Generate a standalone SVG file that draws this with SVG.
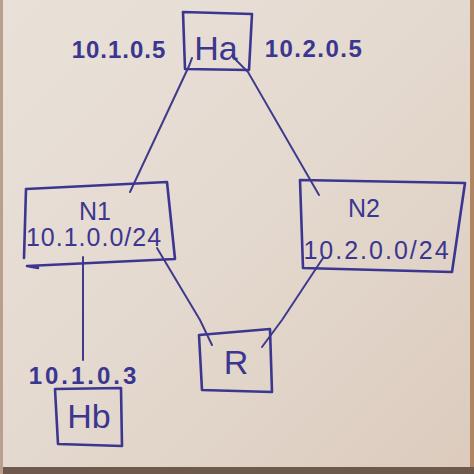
<svg xmlns="http://www.w3.org/2000/svg" width="474" height="474" viewBox="0 0 474 474">
  <defs>
    <linearGradient id="paper" x1="0" y1="0" x2="1" y2="1">
      <stop offset="0" stop-color="#e9e1d9"/>
      <stop offset="0.5" stop-color="#e4d9cf"/>
      <stop offset="1" stop-color="#dccbbd"/>
    </linearGradient>
    <style>
      .box { fill: none; stroke: #3b3690; stroke-width: 2.6; stroke-linejoin: round; stroke-linecap: round; }
      .edge { fill: none; stroke: #3f3a8c; stroke-width: 2; stroke-linecap: round; }
      .lbl { font-family: "Liberation Sans", Arial, sans-serif; fill: #3b3690; text-anchor: middle; }
      .name { font-size: 34px; }
      .net { font-size: 25px; }
      .ip { font-size: 24px; font-weight: bold; }
    </style>
  </defs>
  <rect x="0" y="0" width="474" height="474" fill="url(#paper)"/>
  <rect x="470" y="0" width="4" height="474" fill="#b08562"/>
  <rect x="0" y="467" width="474" height="7" fill="#6e5a4c"/>
  <rect x="0" y="0" width="3" height="474" fill="#b8a08c"/>

  <g id="connectors">
    <polyline class="edge" points="192,58 189,66 130,192"/>
    <polyline class="edge" points="233,57 248,72 319,195"/>
    <line class="edge" x1="83" y1="257" x2="83" y2="360"/>
    <polyline class="edge" points="157,248 200,320 212,345"/>
    <polyline class="edge" points="323,258 282,320 262,347"/>
  </g>

  <g id="Ha">
    <path class="box" d="M183,12 L252,14 L249,70 L185,69 Z"/>
    <text class="lbl name" x="216" y="60">Ha</text>
  </g>
  <g id="Ha-ip1"><text class="lbl ip" x="119" y="58" letter-spacing="1">10.1.0.5</text></g>
  <g id="Ha-ip2"><text class="lbl ip" x="314" y="57" letter-spacing="1.5">10.2.0.5</text></g>

  <g id="N1">
    <path class="box" d="M26,189 L167,182 L175,259 L27,266 L38,268 M26,189 L24,258"/>
    <text class="lbl net" x="95" y="220">N1</text>
    <text class="lbl net" x="94" y="246" letter-spacing="1">10.1.0.0/24</text>
  </g>

  <g id="N2">
    <path class="box" d="M300,180 L465,183 L452,272 L303,268 Z"/>
    <text class="lbl net" x="364" y="217">N2</text>
    <text class="lbl net" x="377" y="259" letter-spacing="2">10.2.0.0/24</text>
  </g>

  <g id="R">
    <path class="box" d="M199,335 L270,329 L272,392 L202,390 Z"/>
    <text class="lbl name" x="236" y="374">R</text>
  </g>

  <g id="Hb">
    <path class="box" d="M55,389 L121,388 L122,446 L58,444 Z"/>
    <text class="lbl name" x="89" y="428">Hb</text>
  </g>
  <g id="Hb-ip"><text class="lbl ip" x="84" y="384" letter-spacing="3">10.1.0.3</text></g>
</svg>
